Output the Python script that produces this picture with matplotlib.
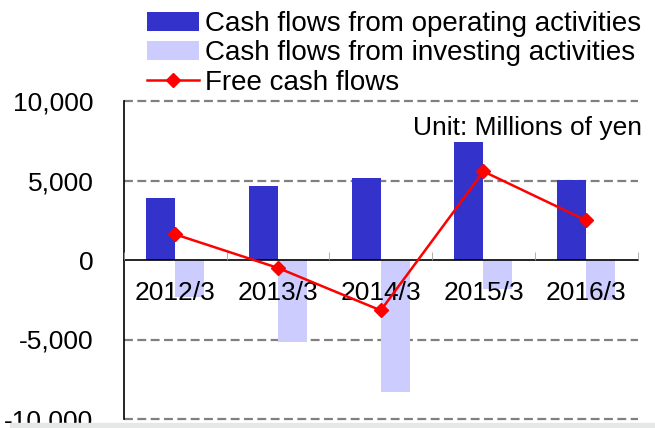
"""Cash flow chart: operating / investing bars with free cash flow line."""

import matplotlib
matplotlib.use("Agg")
import matplotlib.pyplot as plt
from matplotlib.patches import Rectangle
from matplotlib.ticker import FuncFormatter
import numpy as np

periods = ["2012/3", "2013/3", "2014/3", "2015/3", "2016/3"]
operating = [3920, 4680, 5160, 7420, 5010]
investing = [-2310, -5180, -8330, -1850, -2520]
free_cf = [1610, -500, -3170, 5570, 2490]

plt.rcParams["font.family"] = ["Liberation Sans", "DejaVu Sans"]

fig = plt.figure(figsize=(6.55, 4.28), dpi=100)
ax = fig.add_axes([124 / 655, 9 / 428, 513.5 / 655, 318 / 428])
ax.set_axisbelow(False)  # tick labels sit on top of the bars

x = np.arange(len(periods))
w = 0.282
b1 = ax.bar(x - w / 2, operating, w, color="#3333CC", zorder=2, label="Cash flows from operating activities")
b2 = ax.bar(x + w / 2, investing, w, color="#CCCCFF", zorder=2, label="Cash flows from investing activities")
ln, = ax.plot(x, free_cf, color="#FF0000", lw=1.8, marker="D", ms=7.5, zorder=4, label="Free cash flows")

ax.set_xlim(-0.5, len(periods) - 0.5)
ax.set_ylim(-10000, 10000)
ax.set_yticks([-10000, -5000, 0, 5000, 10000])
ax.yaxis.set_major_formatter(FuncFormatter(lambda v, _: f"{int(v):,}"))
for yv in [-10000, -5000, 5000, 10000]:
    ax.axhline(yv, color="#808080", lw=1.6, ls=(0, (4, 2)), zorder=1, clip_on=False)

for s in ["top", "right"]:
    ax.spines[s].set_visible(False)
ax.spines["left"].set_linewidth(1.2)
ax.spines["bottom"].set_position(("data", 0))
ax.spines["bottom"].set_linewidth(1.2)

ax.set_xticks(x)
ax.set_xticklabels(periods)
ax.set_xticks(np.arange(len(periods) + 1) - 0.5, minor=True)
ax.tick_params(axis="x", which="major", length=0, pad=15, labelsize=19)
ax.tick_params(axis="x", which="minor", length=6, direction="in", color="#A0A0A0")
ax.tick_params(axis="y", length=0, pad=22, labelsize=19)

ax.text(1.008, 8300, "Unit: Millions of yen", transform=ax.get_yaxis_transform(),
        ha="right", va="center", fontsize=19)

fig.legend(handles=[b1, b2, ln], loc="upper left", bbox_to_anchor=(136 / 655, 1.0),
           frameon=False, fontsize=20, handlelength=1.85, handletextpad=0.25,
           labelspacing=0.12, borderaxespad=0.0)

fig.patches.append(Rectangle((10 / 655, 0), 1, 5 / 428, transform=fig.transFigure,
                             color="#E6E8E8", zorder=10))

fig.savefig("out.png", dpi=100)
